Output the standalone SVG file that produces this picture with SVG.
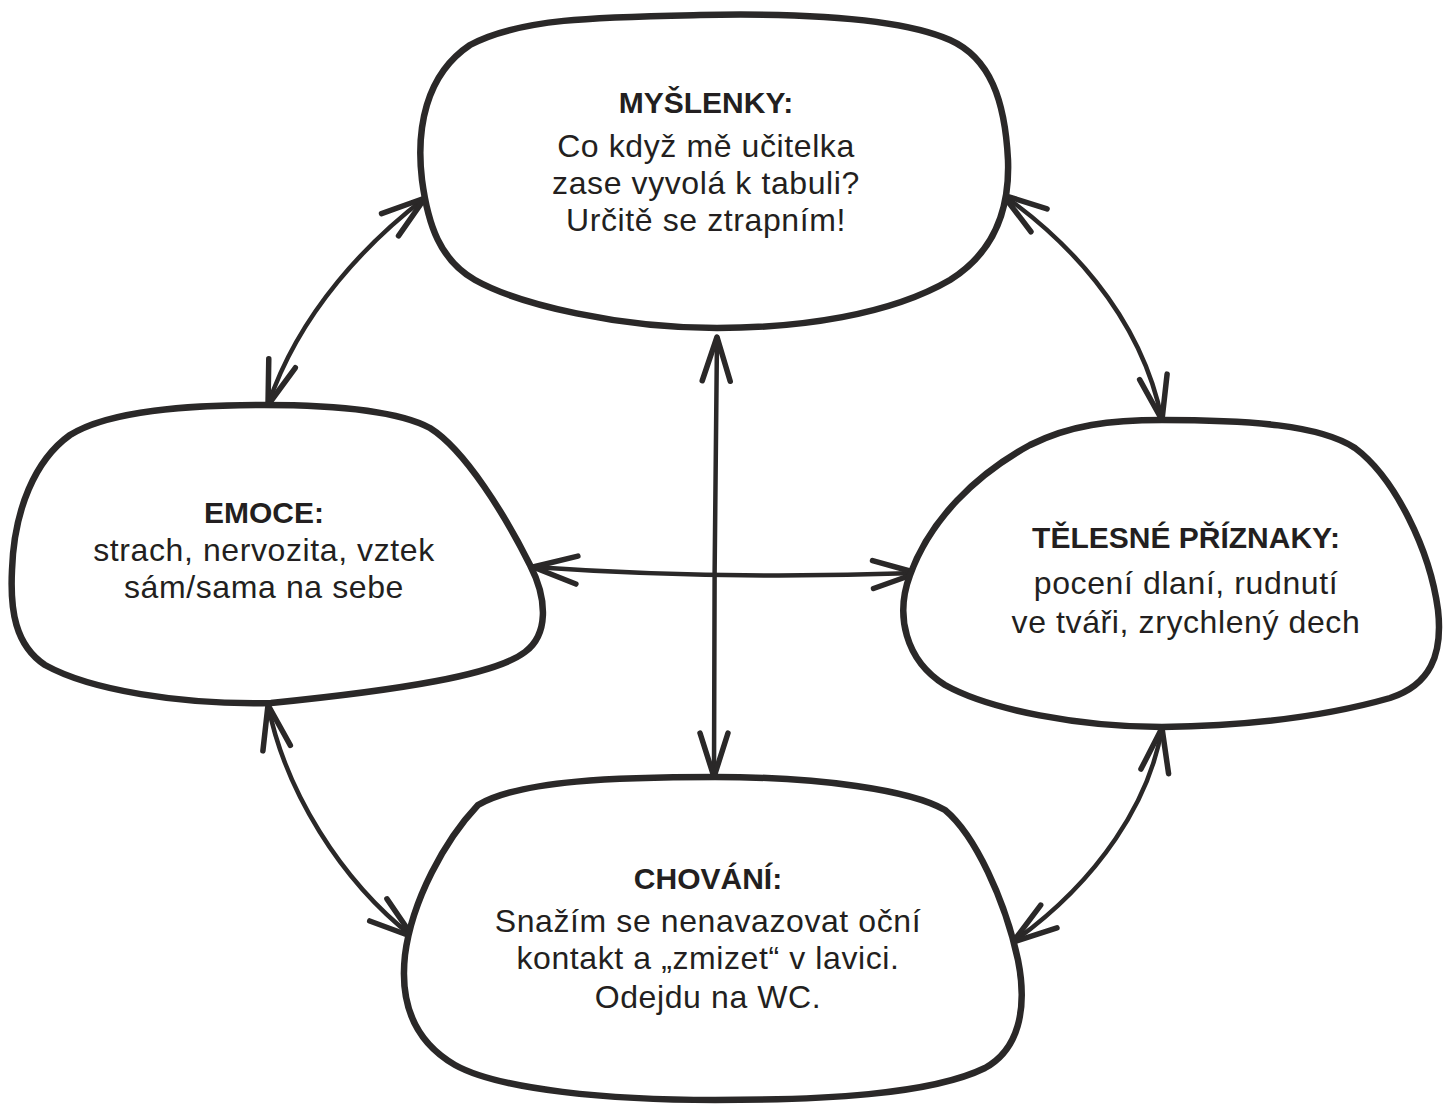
<svg xmlns="http://www.w3.org/2000/svg" width="1447" height="1107" viewBox="0 0 1447 1107">
<style>
.blob{fill:#fff;stroke:#2a2828;stroke-width:6.5;stroke-linejoin:round}
.arr{fill:none;stroke:#2a2828;stroke-width:4.5;stroke-linecap:round;marker-start:url(#hd);marker-end:url(#hd)}
text{font-family:"Liberation Sans",Arial,sans-serif;font-size:32px;letter-spacing:0.6px;fill:#231f20;text-anchor:middle}
.t{font-weight:700;font-size:30px;letter-spacing:0}
</style>
<defs>
<marker id="hd" markerUnits="userSpaceOnUse" viewBox="-55 -22 60 44" markerWidth="60" markerHeight="44" refX="0" refY="0" orient="auto-start-reverse" overflow="visible">
<path d="M -44 -14 L 0 0 L -44 14" fill="none" stroke="#2a2828" stroke-width="5.5" stroke-linecap="round" stroke-linejoin="round"/>
</marker>
</defs>
<rect width="1447" height="1107" fill="#fff"/>
<g id="connectors">
<path class="arr" d="M 425 198 C 370 240, 300 310, 268 405"/>
<path class="arr" d="M 1003 195 C 1060 235, 1140 310, 1162 420"/>
<path class="arr" d="M 717 337 C 715 450, 714 650, 714 777"/>
<path class="arr" d="M 533 567 Q 717 580, 917 573"/>
<path class="arr" d="M 268 705 C 285 790, 340 880, 413 937"/>
<path class="arr" d="M 1162 728 C 1150 800, 1100 880, 1013 942"/>
</g>
<g id="myslenky">
<path class="blob" d="M 700 15 C 800 13, 900 18, 950 40 C 990 58, 1005 100, 1008 160 C 1010 215, 990 255, 950 280 C 890 315, 800 328, 717 328 C 620 328, 520 305, 475 280 C 440 260, 428 225, 422 180 C 416 130, 425 75, 470 45 C 520 18, 600 17, 700 15 Z"/>
<text class="t" x="706" y="113">MYŠLENKY:</text>
<text x="706" y="157">Co když mě učitelka</text>
<text x="706" y="194">zase vyvolá k tabuli?</text>
<text x="706" y="231">Určitě se ztrapním!</text>
</g>
<g id="emoce">
<path class="blob" d="M 264 405 C 340 405, 400 412, 430 428 C 465 450, 505 515, 530 565 C 548 600, 548 635, 525 652 C 495 675, 400 690, 271 703 C 180 705, 90 690, 45 665 C 15 645, 10 610, 12 570 C 14 510, 35 460, 70 435 C 110 410, 190 405, 264 405 Z"/>
<text class="t" x="264" y="523">EMOCE:</text>
<text x="264" y="561">strach, nervozita, vztek</text>
<text x="264" y="598">sám/sama na sebe</text>
</g>
<g id="telesne">
<path class="blob" d="M 1162 420 C 1250 420, 1320 425, 1355 448 C 1395 478, 1430 550, 1438 610 C 1443 655, 1430 685, 1390 698 C 1320 718, 1240 726, 1162 727 C 1080 727, 990 710, 945 685 C 905 660, 895 615, 910 575 C 930 520, 975 475, 1030 445 C 1070 425, 1110 420, 1162 420 Z"/>
<text class="t" x="1186" y="548">TĚLESNÉ PŘÍZNAKY:</text>
<text x="1186" y="594">pocení dlaní, rudnutí</text>
<text x="1186" y="633">ve tváři, zrychlený dech</text>
</g>
<g id="chovani">
<path class="blob" d="M 715 777 C 820 777, 910 790, 945 810 C 975 835, 1005 900, 1018 960 C 1028 1010, 1018 1050, 985 1068 C 930 1095, 820 1100, 715 1100 C 610 1100, 500 1090, 455 1065 C 412 1040, 400 1000, 405 955 C 412 900, 445 840, 478 805 C 520 780, 620 777, 715 777 Z"/>
<text class="t" x="708" y="889">CHOVÁNÍ:</text>
<text x="708" y="932">Snažím se nenavazovat oční</text>
<text x="708" y="969">kontakt a „zmizet“ v lavici.</text>
<text x="708" y="1008">Odejdu na WC.</text>
</g>
</svg>
